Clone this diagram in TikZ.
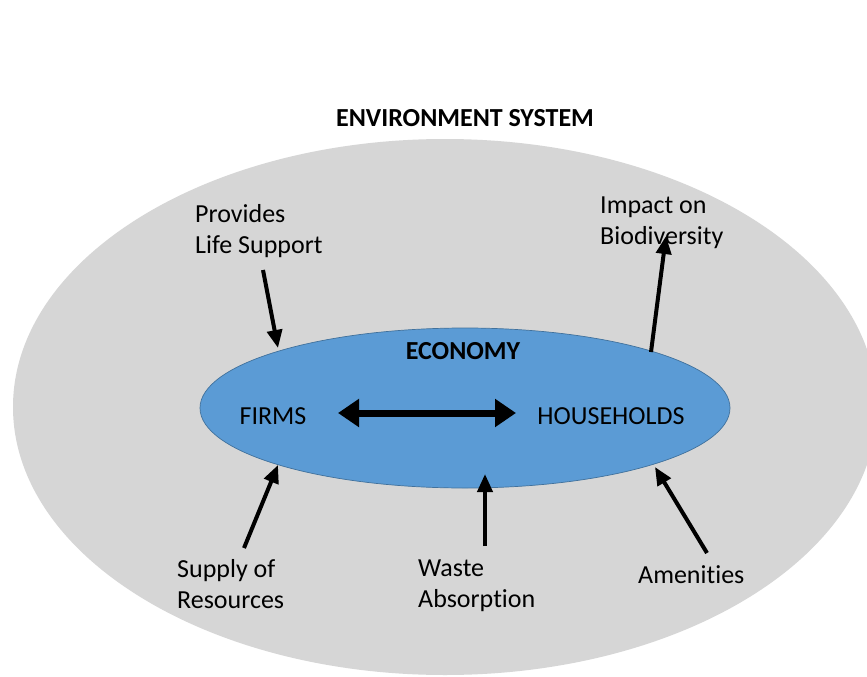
\documentclass[tikz,border=0pt]{standalone}
\usepackage{fontspec}
\setmainfont{Carlito}[RawFeature={-liga;-dlig;-clig}]
\usetikzlibrary{arrows.meta,shapes.geometric}
\definecolor{envgray}{HTML}{D6D6D6}
\definecolor{econblue}{HTML}{5B9BD5}
\definecolor{econedge}{HTML}{41719C}
\tikzset{
  lbl/.style={font=\fontsize{26}{31}\selectfont, inner sep=0pt, align=left, anchor=north west, text=black},
  ctr/.style={font=\fontsize{26}{31}\selectfont, inner sep=0pt, anchor=base, text=black},
  flow/.style={line width=4pt, -{Triangle[length=18pt,width=15pt]}},
  trade/.style={line width=7pt, {Triangle[length=21pt,width=27pt]}-{Triangle[length=21pt,width=27pt]}}
}
\begin{document}
\begin{tikzpicture}[x=1pt,y=-1pt]
\useasboundingbox (0,0) rectangle (867,677);
\fill[white] (0,0) rectangle (867,677);
\begin{scope}
\clip (0,0) rectangle (867,677);
\fill[envgray] (445,407) ellipse [x radius=432, y radius=268];
\end{scope}
\node[ctr, font=\fontsize{26}{31}\selectfont\bfseries] (env) at (465,126) {ENVIRONMENT SYSTEM};
\node[ellipse, fill=econblue, draw=econedge, line width=0.7pt, minimum width=530pt, minimum height=160pt, inner sep=0pt] (econ) at (465,408) {};
\node[ctr, font=\fontsize{26}{31}\selectfont\bfseries] (economy) at (463,359) {ECONOMY};
\node[ctr] (firms) at (273,424) {FIRMS};
\node[ctr] (house) at (611,424) {HOUSEHOLDS};
\coordinate (tl) at (338,413);
\coordinate (tr) at (516,413);
\draw[trade] (tl) -- (tr);
% labels
\node[lbl] (life) at (195,204) {Provides\\Life Support};
\node[lbl] (bio) at (600,197) {Impact on\\Biodiversity};
\node[lbl] (supply) at (177,559) {Supply of\\Resources};
\node[lbl] (waste) at (418,560) {Waste\\Absorption};
\node[lbl] (amen) at (638,565) {Amenities};
% arrow end points
\coordinate (lifeS) at (263,270);
\coordinate (lifeE) at (278,348);
\coordinate (bioS) at (651,352);
\coordinate (bioE) at (666,236);
\coordinate (supS) at (244,548);
\coordinate (supE) at (278,465);
\coordinate (wasS) at (485,546);
\coordinate (wasE) at (485,474);
\coordinate (amS) at (707,553);
\coordinate (amE) at (655,467);
\draw[flow] (lifeS) -- (lifeE);
\draw[flow] (bioS) -- (bioE);
\draw[flow] (supS) -- (supE);
\draw[flow] (wasS) -- (wasE);
\draw[flow] (amS) -- (amE);
\end{tikzpicture}
\end{document}
